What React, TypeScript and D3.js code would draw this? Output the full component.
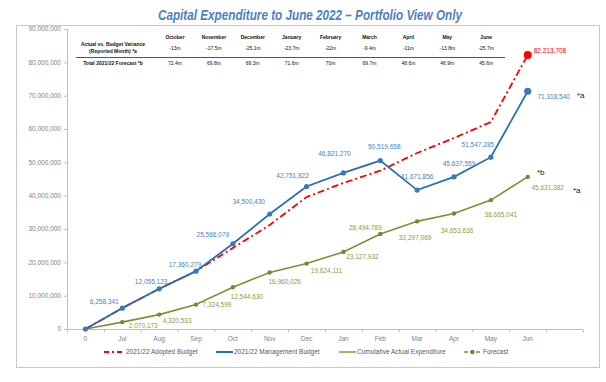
import React from "react";
import * as d3 from "d3";

const categories = ["0", "Jul", "Aug", "Sep", "Oct", "Nov", "Dec", "Jan", "Feb", "Mar", "Apr", "May", "Jun"];
const adoptedBudget = [0, 6258341, 12055123, 17360279, 24300000, 31200000, 39600000, 43800000, 47500000, 52800000, 57300000, 62100000, 82213708];
const managementBudget = [0, 6258341, 12055123, 17360279, 25566079, 34500430, 42751822, 46821270, 50519658, 41671856, 45637559, 51547285, 71318540];
const actualExpenditure = [0, 2070173, 4320533, 7324599, 12544630, 16960026, 19624111, 23127932, 28494789, 32297069, 34653636, 38665041, 45631382];
const yTicks = [0, 10000000, 20000000, 30000000, 40000000, 50000000, 60000000, 70000000, 80000000, 90000000];

const tableMonths = ["October", "November", "December", "January", "February", "March", "April", "May", "June"];
const varianceValues = ["-13m", "-17.5m", "-25.1m", "-23.7m", "-22m", "-9.4m", "-11m", "-13.8m", "-25.7m"];
const forecastValues = ["72.4m", "69.8m", "69.3m", "71.6m", "70m", "69.7m", "48.6m", "46.9m", "45.6m"];

const legendItems = ["2021/22 Adopted Budget", "2021/22 Management Budget", "Cumulative Actual Expenditure", "Forecast"];

// label offsets (layout only)
const blueLabelOffsets: [number, number][] = [[0, 0], [-18, -6], [-8, -7], [-11, -6], [-20, -9], [-21, -12], [-14, -11], [-9, -19], [4, -14], [0, -13], [5, -13], [-13, -12], [26, 5]];
const greenLabelOffsets: [number, number][] = [[0, 0], [21, 4], [18, 6], [21, 0], [14, 10], [15, 9], [20, 7], [19, 5], [-15, -6], [-2, 16], [3, 17], [10, 15], [20, 11]];

const FONT = "'Liberation Sans', Arial, sans-serif";

export default function App() {
  const W = 606, H = 382;
  const xDomain = [...categories, ""];
  const x = d3.scaleBand<string>().domain(xDomain).range([67, 583]).padding(0);
  const y = d3.scaleLinear().domain([0, 90000000]).range([329, 29]);
  const cx = (i: number) => (x(categories[i]) as number) + x.bandwidth() / 2;
  const fmt = d3.format(",");

  const line = d3.line<number>().x((_, i) => cx(i)).y((d) => y(d));

  const blue = "#2c6fb1";
  const blueMarker = "#3f78b9";
  const blueLabel = "#3e86c6";
  const red = "#ff0000";
  const green = "#789336";
  const greenLabel = "#8f9a46";

  const colX = (i: number) => 175 + i * 38.9;

  const legendPos = [104, 216, 339, 464];

  return (
    <svg width={W} height={H} style={{ position: "absolute", left: 0, top: 0 }} fontFamily={FONT}>
      <rect x={0} y={0} width={W} height={H} fill="#ffffff" />
      {/* Title */}
      <text x={158} y={20} fontSize={15} fontWeight="bold" fontStyle="italic" fill="#4f7fbf" textLength={304} lengthAdjust="spacingAndGlyphs">
        Capital Expenditure to June 2022 – Portfolio View Only
      </text>
      {/* Frame */}
      <rect x={16.5} y={25.5} width={583} height={342} fill="none" stroke="#c8c8c8" strokeWidth={1} />

      {/* Table */}
      <g fontSize={5} fill="#111">
        {tableMonths.map((m, i) => (
          <text key={m} x={colX(i)} y={39} textAnchor="middle" fontWeight="bold">{m}</text>
        ))}
        <text x={113} y={46} textAnchor="middle" fontWeight="bold">Actual vs. Budget Variance</text>
        <text x={113} y={53} textAnchor="middle" fontWeight="bold">(Reported Month) *a</text>
        {varianceValues.map((v, i) => (
          <text key={"v" + i} x={colX(i)} y={50} textAnchor="middle">{v}</text>
        ))}
        <line x1={76} x2={505} y1={57.5} y2={57.5} stroke="#555" strokeWidth={1} />
        <text x={113} y={65} textAnchor="middle" fontWeight="bold">Total 2021/22 Forecast *b</text>
        {forecastValues.map((v, i) => (
          <text key={"f" + i} x={colX(i)} y={65} textAnchor="middle">{v}</text>
        ))}
      </g>

      {/* Y axis */}
      <line x1={67.5} x2={67.5} y1={y(90000000)} y2={y(0)} stroke="#bfbfbf" />
      {yTicks.map((t) => (
        <g key={t}>
          <line x1={64} x2={67.5} y1={y(t) + 0.5} y2={y(t) + 0.5} stroke="#bfbfbf" />
          <text x={61} y={y(t)} dy="0.35em" textAnchor="end" fontSize={6.5} fill="#7f7f7f">{fmt(t)}</text>
        </g>
      ))}
      {/* X axis */}
      <line x1={67} x2={583} y1={329.5} y2={329.5} stroke="#bfbfbf" />
      {xDomain.map((c, i) => (
        <line key={"xt" + i} x1={(x(c) as number) + 0.5} x2={(x(c) as number) + 0.5} y1={329.5} y2={332.5} stroke="#bfbfbf" />
      ))}
      <line x1={583.5} x2={583.5} y1={329.5} y2={332.5} stroke="#bfbfbf" />
      {categories.map((c, i) => (
        <text key={"xl" + c} x={cx(i)} y={341} textAnchor="middle" fontSize={6.5} fill="#7f7f7f">{c}</text>
      ))}

      {/* Series */}
      <path d={line(actualExpenditure) as string} fill="none" stroke={green} strokeWidth={1.6} />
      {actualExpenditure.map((v, i) => (
        <circle key={"gm" + i} cx={cx(i)} cy={y(v)} r={2.2} fill="#6f8a30" />
      ))}
      <path d={line(adoptedBudget) as string} fill="none" stroke={red} strokeWidth={1.8} strokeDasharray="7,3,2,3" />
      <path d={line(managementBudget) as string} fill="none" stroke={blue} strokeWidth={1.8} />
      {managementBudget.map((v, i) => (
        <circle key={"bm" + i} cx={cx(i)} cy={y(v)} r={i === managementBudget.length - 1 ? 3.6 : 2.6} fill={blueMarker} />
      ))}
      <circle cx={cx(12)} cy={y(adoptedBudget[12])} r={4} fill={red} />

      {/* Labels */}
      <g fontSize={6.5}>
        {managementBudget.map((v, i) =>
          i === 0 ? null : (
            <text key={"bl" + i} x={cx(i) + blueLabelOffsets[i][0]} y={y(v) + blueLabelOffsets[i][1]} dy="0.35em" textAnchor="middle" fill={blueLabel}>
              {fmt(v)}
            </text>
          )
        )}
        {actualExpenditure.map((v, i) =>
          i === 0 ? null : (
            <text key={"gl" + i} x={cx(i) + greenLabelOffsets[i][0]} y={y(v) + greenLabelOffsets[i][1]} dy="0.35em" textAnchor="middle" fill={greenLabel}>
              {fmt(v)}
            </text>
          )
        )}
        <text x={cx(12) + 6} y={y(adoptedBudget[12]) - 4} dy="0.35em" fill={red}>{fmt(adoptedBudget[12])}</text>
      </g>
      <g fontSize={8} fill="#222">
        <text x={577} y={98}>*a</text>
        <text x={537} y={175}>*b</text>
        <text x={573} y={193}>*a</text>
      </g>

      {/* Legend */}
      <g fontSize={6.5} fill="#595959">
        <line x1={legendPos[0]} x2={legendPos[0] + 20} y1={352} y2={352} stroke={red} strokeWidth={2} strokeDasharray="5,3,2,3" />
        <text x={legendPos[0] + 22} y={352} dy="0.35em">{legendItems[0]}</text>
        <line x1={legendPos[1]} x2={legendPos[1] + 17} y1={352} y2={352} stroke={blue} strokeWidth={2} />
        <text x={legendPos[1] + 18} y={352} dy="0.35em">{legendItems[1]}</text>
        <line x1={legendPos[2]} x2={legendPos[2] + 17} y1={352} y2={352} stroke="#9bbb59" strokeWidth={2} />
        <text x={legendPos[2] + 18} y={352} dy="0.35em">{legendItems[2]}</text>
        <line x1={legendPos[3]} x2={legendPos[3] + 17} y1={352} y2={352} stroke={green} strokeWidth={1.5} strokeDasharray="4,2" />
        <circle cx={legendPos[3] + 8.5} cy={352} r={2.2} fill="#6f8a30" />
        <text x={legendPos[3] + 19} y={352} dy="0.35em">{legendItems[3]}</text>
      </g>
    </svg>
  );
}
